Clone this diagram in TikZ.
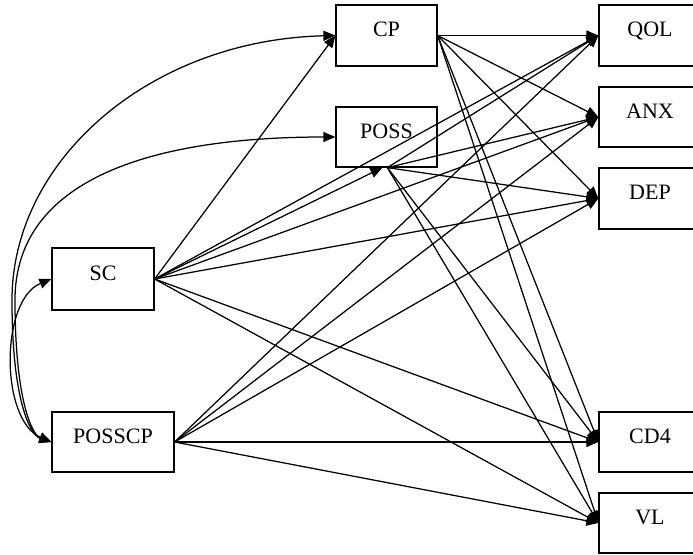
\documentclass[tikz,border=0pt]{standalone}
\usepackage{fontspec}
\setmainfont{Liberation Serif}
\usetikzlibrary{arrows.meta}
\begin{document}
\begin{tikzpicture}[x=1pt,y=-1pt,line width=1.25pt,
  box/.style={draw, rectangle, inner sep=0pt, text height=16pt, text depth=13.4pt,
    font=\fontsize{22}{26}\selectfont},
  arr/.style={-{Triangle[length=12pt,width=10pt]}},
  cov/.style={{Triangle[length=12pt,width=10pt]}-{Triangle[length=12pt,width=10pt]}}]
\fill[white] (0,0) rectangle (693,554);
\clip (0,0) rectangle (693,554);
% left / middle nodes
\node[box, minimum width=101pt, minimum height=61pt] (CP) at (386.5,35.5) {CP};
\node[box, minimum width=101pt, minimum height=60pt] (POSS) at (386.5,137) {POSS};
\node[box, minimum width=102pt, minimum height=62pt] (SC) at (103,279) {SC};
\node[box, minimum width=122pt, minimum height=60pt] (POSSCP) at (113,442) {POSSCP};
% right nodes
\node[box, minimum width=102pt, minimum height=61pt] (QOL) at (650,35.5) {QOL};
\node[box, minimum width=102pt, minimum height=60pt] (ANX) at (650,117) {ANX};
\node[box, minimum width=102pt, minimum height=61pt] (DEP) at (650,198.5) {DEP};
\node[box, minimum width=102pt, minimum height=60pt] (CD4) at (650,442) {CD4};
\node[box, minimum width=102pt, minimum height=60pt] (VL) at (650,523) {VL};
% ports on POSS bottom
\coordinate (possin) at ([xshift=47pt]POSS.south west);
\coordinate (possout) at ([xshift=52pt]POSS.south west);
% paths from SC
\draw[arr] (SC.east) -- (CP.west);
\draw[arr] (SC.east) -- (possin);
\foreach \t in {QOL,ANX,DEP,CD4,VL}{
  \draw[arr] (SC.east) -- (\t.west);
  \draw[arr] (POSSCP.east) -- (\t.west);
  \draw[arr] (CP.east) -- (\t.west);
  \draw[arr] (possout) -- (\t.west);
}
% covariances
\draw[cov] (CP.west) .. controls (150,40) and (12,160) .. (12,300)
  .. controls (12,400) and (30,435) .. (POSSCP.west);
\draw[cov] (POSS.west) .. controls (150,137) and (15,180) .. (15,300)
  .. controls (15,400) and (32,435) .. (POSSCP.west);
\draw[cov] (SC.west) .. controls (0,300) and (0,420) .. (POSSCP.west);
\end{tikzpicture}
\end{document}
